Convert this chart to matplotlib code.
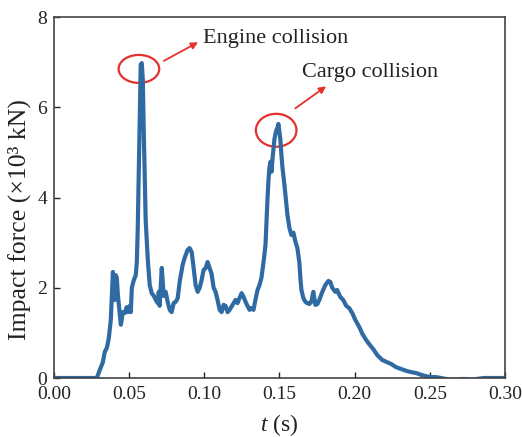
import matplotlib
matplotlib.use("Agg")
import matplotlib.pyplot as plt
from matplotlib.patches import Ellipse

# impact force history
t = [0.0, 0.0285, 0.0305, 0.0325, 0.0338, 0.0352, 0.0365, 0.0378, 0.0385, 0.0392,
     0.0398, 0.0405, 0.0411, 0.0418, 0.0425, 0.0438, 0.0445, 0.0458, 0.0471, 0.0484,
     0.0491, 0.0504, 0.0511, 0.0518, 0.0531, 0.0544, 0.0551, 0.0557, 0.0564, 0.0571,
     0.0577, 0.0584, 0.0591, 0.0597, 0.0604, 0.0610, 0.0624, 0.0637, 0.0650, 0.0664,
     0.0677, 0.0690, 0.0697, 0.0703, 0.0717, 0.0730, 0.0743, 0.0756, 0.0770, 0.0783,
     0.0796, 0.0810, 0.0823, 0.0836, 0.0856, 0.0869, 0.0889, 0.0902, 0.0916, 0.0929,
     0.0942, 0.0956, 0.0969, 0.0982, 0.0995, 0.1009, 0.1022, 0.1035, 0.1048, 0.1062,
     0.1075, 0.1088, 0.1102, 0.1115, 0.1128, 0.1141, 0.1155, 0.1168, 0.1188, 0.1208,
     0.1221, 0.1234, 0.1248, 0.1261, 0.1274, 0.1287, 0.1301, 0.1314, 0.1327, 0.1340,
     0.1354, 0.1367, 0.1380, 0.1394, 0.1407, 0.1414, 0.1420, 0.1427, 0.1433, 0.1440,
     0.1447, 0.1453, 0.1460, 0.1466, 0.1473, 0.1480, 0.1486, 0.1493, 0.1500, 0.1506,
     0.1513, 0.1520, 0.1533, 0.1546, 0.1553, 0.1566, 0.1579, 0.1593, 0.1606, 0.1619,
     0.1632, 0.1639, 0.1646, 0.1659, 0.1672, 0.1685, 0.1699, 0.1712, 0.1725, 0.1739,
     0.1752, 0.1765, 0.1785, 0.1805, 0.1825, 0.1838, 0.1851, 0.1871, 0.1884, 0.1904,
     0.1924, 0.1944, 0.1964, 0.1984, 0.2004, 0.2031, 0.2051, 0.2077, 0.2097, 0.2124,
     0.2150, 0.2183, 0.2216, 0.2243, 0.2276, 0.2309, 0.2342, 0.2376, 0.2409, 0.2442,
     0.2475, 0.2508, 0.2541, 0.2575, 0.2608, 0.2641, 0.2681, 0.2727, 0.2774, 0.2814,
     0.2860, 0.2906, 0.2953, 0.2993]
force = [0.0, 0.0, 0.18, 0.35, 0.58, 0.67, 0.89, 1.29, 1.84, 2.35,
         1.95, 1.73, 2.28, 2.22, 1.84, 1.40, 1.18, 1.46, 1.44, 1.57,
         1.46, 1.60, 1.46, 2.00, 2.17, 2.28, 2.57, 3.28, 4.61, 5.94,
         6.94, 6.98, 6.61, 5.50, 4.39, 3.50, 2.62, 2.06, 1.88, 1.82,
         1.73, 1.66, 1.91, 1.60, 2.44, 1.82, 1.91, 1.69, 1.51, 1.46,
         1.66, 1.69, 1.77, 2.13, 2.51, 2.66, 2.84, 2.88, 2.79, 2.44,
         2.06, 1.91, 2.00, 2.17, 2.39, 2.44, 2.57, 2.44, 2.31, 2.00,
         1.91, 1.73, 1.51, 1.46, 1.62, 1.60, 1.46, 1.51, 1.62, 1.73,
         1.66, 1.77, 1.88, 1.80, 1.69, 1.60, 1.51, 1.55, 1.51, 1.73,
         1.95, 2.06, 2.22, 2.57, 2.95, 3.50, 3.95, 4.39, 4.66, 4.79,
         4.57, 4.83, 5.06, 5.28, 5.41, 5.50, 5.54, 5.63, 5.45, 5.28,
         4.94, 4.66, 4.28, 3.84, 3.61, 3.33, 3.17, 3.22, 3.02, 2.88,
         2.57, 2.22, 1.95, 1.77, 1.69, 1.66, 1.64, 1.69, 1.91, 1.62,
         1.64, 1.73, 1.91, 2.06, 2.15, 2.13, 2.00, 1.91, 1.95, 1.80,
         1.73, 1.60, 1.55, 1.44, 1.29, 1.13, 0.98, 0.84, 0.75, 0.64,
         0.51, 0.40, 0.35, 0.31, 0.24, 0.20, 0.16, 0.13, 0.11, 0.07,
         0.04, 0.02, 0.02, 0.0, -0.02, -0.04, -0.04, -0.02, -0.04, -0.02,
         0.0, 0.0, 0.0, 0.0]

xticks = [0.00, 0.05, 0.10, 0.15, 0.20, 0.25, 0.30]
yticks = [0, 2, 4, 6, 8]

plt.rcParams['font.family'] = 'Liberation Serif'
plt.rcParams['mathtext.fontset'] = 'custom'
plt.rcParams['mathtext.rm'] = 'Liberation Serif'
plt.rcParams['mathtext.it'] = 'Liberation Serif:italic'

fig = plt.figure(figsize=(5.22, 4.37), dpi=100)
ax = fig.add_axes([0.1034, 0.135, 0.864, 0.826])

ax.plot(t, force, color='#2f6aa3', lw=3.0, solid_joinstyle='round')

ax.set_xlim(0, 0.30)
ax.set_ylim(0, 8)
ax.set_xticks(xticks)
ax.set_xticklabels(['%.2f' % v for v in xticks])
ax.set_yticks(yticks)
ax.set_yticklabels([str(v) for v in yticks])
ax.tick_params(direction='in', length=4, width=1, labelsize=14, colors='#222222')
ax.tick_params(axis='x', pad=6)
ax.tick_params(axis='y', pad=5)
for s in ax.spines.values():
    s.set_color('#444444')
    s.set_linewidth(1.2)

ax.set_xlabel('$t$ (s)', fontsize=17, color='#222222', labelpad=6)
ax.set_ylabel('Impact force (×10³ kN)', fontsize=18.5, color='#222222')
ax.yaxis.set_label_coords(-0.05, 0.44)

red = '#e5312b'
ax.add_patch(Ellipse((0.0565, 6.85), 0.027, 0.62, fill=False, ec=red, lw=1.6))
ax.add_patch(Ellipse((0.1478, 5.49), 0.027, 0.73, fill=False, ec=red, lw=1.6))

ax.annotate('', xy=(0.0975, 7.47), xytext=(0.0715, 7.0),
            arrowprops=dict(arrowstyle='-|>', color=red, lw=1.3, mutation_scale=10))
ax.annotate('', xy=(0.1825, 6.5), xytext=(0.1590, 5.94),
            arrowprops=dict(arrowstyle='-|>', color=red, lw=1.3, mutation_scale=10))

ax.text(0.0989, 7.53, 'Engine collision', fontsize=16, color='#222222', va='center')
ax.text(0.1653, 6.76, 'Cargo collision', fontsize=16, color='#222222', va='center')

fig.savefig('out.png', dpi=100)
